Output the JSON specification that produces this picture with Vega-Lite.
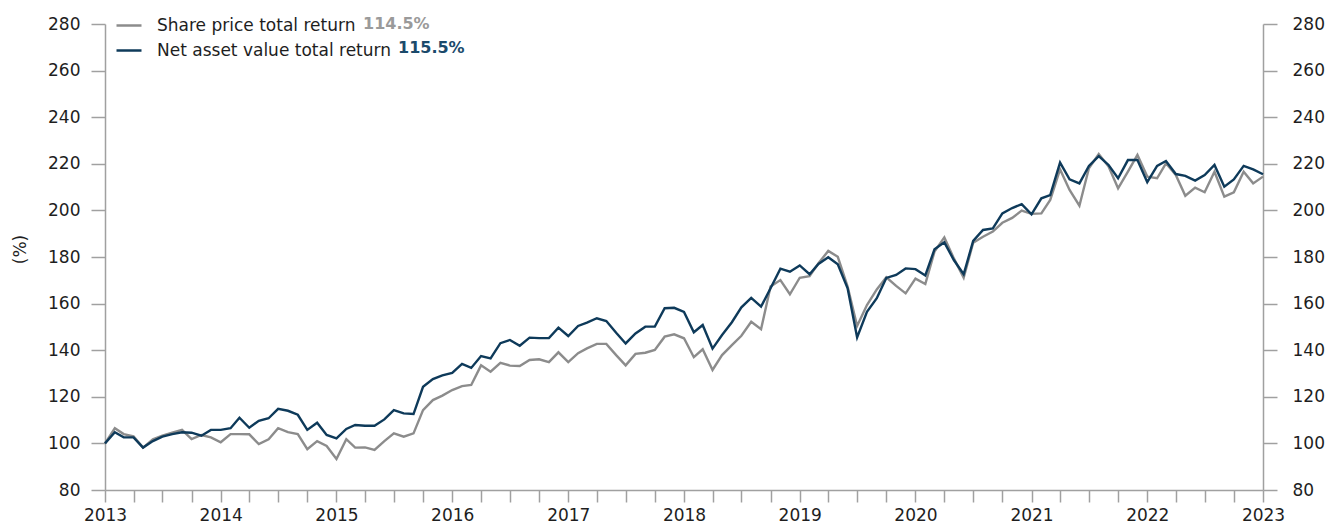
{
  "$schema": "https://vega.github.io/schema/vega-lite/v6.json",
  "autosize": "none",
  "width": 1158,
  "height": 466,
  "padding": {"left": 105, "top": 24, "right": 68, "bottom": 34},
  "background": "white",
  "config": {"font": "DejaVu Sans", "view": {"stroke": null}},
  "datasets": {
    "returns": [
      {"date": "2013-01-01", "sp": 100, "nav": 100},
      {"date": "2013-02-01", "sp": 106.5, "nav": 104.8},
      {"date": "2013-03-01", "sp": 104.0, "nav": 102.6},
      {"date": "2013-04-01", "sp": 103.0, "nav": 102.6},
      {"date": "2013-05-01", "sp": 98.2, "nav": 98.2},
      {"date": "2013-06-01", "sp": 101.8, "nav": 101.0},
      {"date": "2013-07-01", "sp": 103.3, "nav": 102.9},
      {"date": "2013-08-01", "sp": 104.6, "nav": 104.0},
      {"date": "2013-09-01", "sp": 105.8, "nav": 104.8},
      {"date": "2013-10-01", "sp": 101.8, "nav": 104.6},
      {"date": "2013-11-01", "sp": 103.6, "nav": 103.3},
      {"date": "2013-12-01", "sp": 102.6, "nav": 105.8},
      {"date": "2014-01-01", "sp": 100.5, "nav": 105.8},
      {"date": "2014-02-01", "sp": 104.0, "nav": 106.5},
      {"date": "2014-03-01", "sp": 104.0, "nav": 111.0},
      {"date": "2014-04-01", "sp": 103.9, "nav": 106.7},
      {"date": "2014-05-01", "sp": 99.7, "nav": 109.7},
      {"date": "2014-06-01", "sp": 101.8, "nav": 110.8},
      {"date": "2014-07-01", "sp": 106.5, "nav": 114.8},
      {"date": "2014-08-01", "sp": 104.8, "nav": 114.0},
      {"date": "2014-09-01", "sp": 104.0, "nav": 112.3},
      {"date": "2014-10-01", "sp": 97.5, "nav": 105.8},
      {"date": "2014-11-01", "sp": 101.0, "nav": 108.9},
      {"date": "2014-12-01", "sp": 98.9, "nav": 103.6},
      {"date": "2015-01-01", "sp": 93.3, "nav": 102.2},
      {"date": "2015-02-01", "sp": 101.8, "nav": 106.2},
      {"date": "2015-03-01", "sp": 98.2, "nav": 107.9},
      {"date": "2015-04-01", "sp": 98.3, "nav": 107.6},
      {"date": "2015-05-01", "sp": 97.2, "nav": 107.6},
      {"date": "2015-06-01", "sp": 101.0, "nav": 110.3},
      {"date": "2015-07-01", "sp": 104.3, "nav": 114.3},
      {"date": "2015-08-01", "sp": 102.9, "nav": 112.9},
      {"date": "2015-09-01", "sp": 104.3, "nav": 112.6},
      {"date": "2015-10-01", "sp": 114.3, "nav": 124.3},
      {"date": "2015-11-01", "sp": 118.6, "nav": 127.6},
      {"date": "2015-12-01", "sp": 120.5, "nav": 129.2},
      {"date": "2016-01-01", "sp": 122.9, "nav": 130.3},
      {"date": "2016-02-01", "sp": 124.6, "nav": 134.1},
      {"date": "2016-03-01", "sp": 125.1, "nav": 132.4},
      {"date": "2016-04-01", "sp": 133.5, "nav": 137.5},
      {"date": "2016-05-01", "sp": 130.8, "nav": 136.5},
      {"date": "2016-06-01", "sp": 134.6, "nav": 143.0},
      {"date": "2016-07-01", "sp": 133.4, "nav": 144.4},
      {"date": "2016-08-01", "sp": 133.2, "nav": 141.9},
      {"date": "2016-09-01", "sp": 135.8, "nav": 145.4},
      {"date": "2016-10-01", "sp": 136.1, "nav": 145.2},
      {"date": "2016-11-01", "sp": 134.9, "nav": 145.2},
      {"date": "2016-12-01", "sp": 139.1, "nav": 149.7},
      {"date": "2017-01-01", "sp": 134.9, "nav": 146.1},
      {"date": "2017-02-01", "sp": 138.7, "nav": 150.4},
      {"date": "2017-03-01", "sp": 140.8, "nav": 151.8},
      {"date": "2017-04-01", "sp": 142.7, "nav": 153.7},
      {"date": "2017-05-01", "sp": 142.7, "nav": 152.5},
      {"date": "2017-06-01", "sp": 137.9, "nav": 147.5},
      {"date": "2017-07-01", "sp": 133.5, "nav": 142.9},
      {"date": "2017-08-01", "sp": 138.4, "nav": 147.2},
      {"date": "2017-09-01", "sp": 138.9, "nav": 150.1},
      {"date": "2017-10-01", "sp": 140.1, "nav": 150.1},
      {"date": "2017-11-01", "sp": 145.8, "nav": 158.0},
      {"date": "2017-12-01", "sp": 146.8, "nav": 158.2},
      {"date": "2018-01-01", "sp": 145.1, "nav": 156.4},
      {"date": "2018-02-01", "sp": 137.0, "nav": 147.7},
      {"date": "2018-03-01", "sp": 140.4, "nav": 150.8},
      {"date": "2018-04-01", "sp": 131.5, "nav": 140.7},
      {"date": "2018-05-01", "sp": 137.9, "nav": 146.5},
      {"date": "2018-06-01", "sp": 142.2, "nav": 152.0},
      {"date": "2018-07-01", "sp": 146.2, "nav": 158.4},
      {"date": "2018-08-01", "sp": 152.2, "nav": 162.5},
      {"date": "2018-09-01", "sp": 149.0, "nav": 158.7},
      {"date": "2018-10-01", "sp": 167.3, "nav": 166.6},
      {"date": "2018-11-01", "sp": 170.1, "nav": 175.0},
      {"date": "2018-12-01", "sp": 164.0, "nav": 173.7},
      {"date": "2019-01-01", "sp": 171.1, "nav": 176.4},
      {"date": "2019-02-01", "sp": 171.8, "nav": 172.6},
      {"date": "2019-03-01", "sp": 177.3, "nav": 177.0},
      {"date": "2019-04-01", "sp": 182.6, "nav": 179.9},
      {"date": "2019-05-01", "sp": 180.1, "nav": 176.9},
      {"date": "2019-06-01", "sp": 167.3, "nav": 166.6},
      {"date": "2019-07-01", "sp": 150.4, "nav": 145.5},
      {"date": "2019-08-01", "sp": 159.4, "nav": 156.5},
      {"date": "2019-09-01", "sp": 166.1, "nav": 162.3},
      {"date": "2019-10-01", "sp": 171.3, "nav": 171.0},
      {"date": "2019-11-01", "sp": 167.6, "nav": 172.3},
      {"date": "2019-12-01", "sp": 164.4, "nav": 175.1},
      {"date": "2020-01-01", "sp": 170.7, "nav": 174.8},
      {"date": "2020-02-01", "sp": 168.4, "nav": 172.1},
      {"date": "2020-03-01", "sp": 182.3, "nav": 183.3},
      {"date": "2020-04-01", "sp": 188.4, "nav": 186.3},
      {"date": "2020-05-01", "sp": 179.4, "nav": 178.7},
      {"date": "2020-06-01", "sp": 171.1, "nav": 172.6},
      {"date": "2020-07-01", "sp": 186.1, "nav": 186.9},
      {"date": "2020-08-01", "sp": 188.7, "nav": 191.6},
      {"date": "2020-09-01", "sp": 190.9, "nav": 192.3},
      {"date": "2020-10-01", "sp": 194.7, "nav": 198.7},
      {"date": "2020-11-01", "sp": 196.8, "nav": 201.0},
      {"date": "2020-12-01", "sp": 199.9, "nav": 202.7},
      {"date": "2021-01-01", "sp": 198.5, "nav": 198.3},
      {"date": "2021-02-01", "sp": 198.7, "nav": 205.2},
      {"date": "2021-03-01", "sp": 204.5, "nav": 206.6},
      {"date": "2021-04-01", "sp": 217.6, "nav": 220.5},
      {"date": "2021-05-01", "sp": 208.8, "nav": 213.3},
      {"date": "2021-06-01", "sp": 202.0, "nav": 211.6},
      {"date": "2021-07-01", "sp": 218.1, "nav": 219.1},
      {"date": "2021-08-01", "sp": 224.2, "nav": 223.3},
      {"date": "2021-09-01", "sp": 218.8, "nav": 219.5},
      {"date": "2021-10-01", "sp": 209.5, "nav": 213.8},
      {"date": "2021-11-01", "sp": 216.6, "nav": 221.6},
      {"date": "2021-12-01", "sp": 223.8, "nav": 221.6},
      {"date": "2022-01-01", "sp": 214.5, "nav": 212.1},
      {"date": "2022-02-01", "sp": 213.8, "nav": 219.1},
      {"date": "2022-03-01", "sp": 220.2, "nav": 221.2},
      {"date": "2022-04-01", "sp": 215.2, "nav": 215.6},
      {"date": "2022-05-01", "sp": 206.3, "nav": 214.8},
      {"date": "2022-06-01", "sp": 209.8, "nav": 212.8},
      {"date": "2022-07-01", "sp": 207.8, "nav": 215.2},
      {"date": "2022-08-01", "sp": 216.6, "nav": 219.5},
      {"date": "2022-09-01", "sp": 205.9, "nav": 210.2},
      {"date": "2022-10-01", "sp": 207.8, "nav": 213.3},
      {"date": "2022-11-01", "sp": 216.6, "nav": 219.1},
      {"date": "2022-12-01", "sp": 211.6, "nav": 217.6},
      {"date": "2023-01-01", "sp": 214.5, "nav": 215.5}
    ],
    "pct": [
      {"ret": "114.5%"},
      {"ret": "115.5%"}
    ]
  },
  "resolve": {"scale": {"y": "independent"}, "axis": {"y": "independent"}},
  "layer": [
    {
      "data": {"name": "returns"},
      "transform": [
        {"fold": ["sp", "nav"], "as": ["series", "value"]},
        {"filter": {"field": "series", "equal": "sp"}}
      ],
      "mark": {"type": "line", "strokeWidth": 2.4},
      "encoding": {
        "x": {
          "field": "date", "type": "temporal",
          "scale": {"type": "utc", "domain": ["2013-01-01", "2023-01-01"], "nice": false},
          "axis": {
            "title": null, "grid": false,
            "tickCount": {"interval": "month", "step": 3},
            "labelExpr": "utcmonth(datum.value) === 0 ? utcFormat(datum.value, '%Y') : ''",
            "labelFlush": false, "labelOverlap": false,
            "tickSize": 12, "labelPadding": 5,
            "domainColor": "#a0a0a0", "tickColor": "#a0a0a0",
            "domainWidth": 1.5, "tickWidth": 1.5,
            "labelFontSize": 17, "labelColor": "#1e1e1e"
          }
        },
        "y": {
          "field": "value", "type": "quantitative",
          "scale": {"domain": [80, 280], "nice": false, "zero": false},
          "axis": {
            "orient": "left", "title": "(%)", "grid": false,
            "values": [80, 100, 120, 140, 160, 180, 200, 220, 240, 260, 280],
            "tickSize": 14, "labelPadding": 11,
            "domainColor": "#a0a0a0", "tickColor": "#a0a0a0",
            "domainWidth": 1.5, "tickWidth": 1.5,
            "labelFontSize": 17, "labelColor": "#1e1e1e",
            "titleFontSize": 17, "titleFontWeight": "normal", "titleColor": "#1e1e1e",
            "titleX": -85, "titleY": 225, "titleBaseline": "middle", "titleAlign": "center"
          }
        },
        "color": {
          "field": "series", "type": "nominal",
          "scale": {"domain": ["sp", "nav"], "range": ["#8c8c8c", "#0e3a5a"]},
          "legend": {
            "title": null, "orient": "none", "legendX": 10, "legendY": -12.5,
            "direction": "vertical", "padding": 0,
            "symbolType": "stroke", "symbolSize": 625, "symbolStrokeWidth": 2.5,
            "labelFontSize": 17, "labelColor": "#1e1e1e", "labelOffset": 14,
            "rowPadding": 3, "labelLimit": 0,
            "labelExpr": "datum.value === 'sp' ? 'Share price total return' : 'Net asset value total return'"
          }
        }
      }
    },
    {
      "data": {"name": "returns"},
      "transform": [
        {"fold": ["sp", "nav"], "as": ["series", "value"]},
        {"filter": {"field": "series", "equal": "nav"}}
      ],
      "mark": {"type": "line", "strokeWidth": 2.4},
      "encoding": {
        "x": {"field": "date", "type": "temporal"},
        "y": {
          "field": "value", "type": "quantitative",
          "scale": {"domain": [80, 280], "nice": false, "zero": false},
          "axis": {
            "orient": "right", "title": null, "grid": false,
            "values": [80, 100, 120, 140, 160, 180, 200, 220, 240, 260, 280],
            "tickSize": 14, "labelPadding": 15,
            "domainColor": "#a0a0a0", "tickColor": "#a0a0a0",
            "domainWidth": 1.5, "tickWidth": 1.5,
            "labelFontSize": 17, "labelColor": "#1e1e1e"
          }
        },
        "color": {"field": "series", "type": "nominal"}
      }
    },
    {
      "data": {"name": "pct"},
      "mark": {"type": "point", "opacity": 0},
      "encoding": {
        "fill": {
          "field": "ret", "type": "nominal",
          "scale": {"domain": ["114.5%", "115.5%"], "range": ["#9a9a9a", "#1b4a6b"]},
          "legend": {
            "title": null, "orient": "none", "legendX": 0, "legendY": -12.5,
            "direction": "vertical", "padding": 0,
            "symbolType": "stroke", "symbolSize": 625, "symbolOpacity": 0, "symbolStrokeWidth": 0,
            "labelFontSize": 16, "labelFontWeight": "bold", "rowPadding": 3, "labelLimit": 0,
            "encoding": {
              "labels": {
                "x": {"value": {"expr": "datum.value === '114.5%' ? 258 : 293"}},
                "fill": {"value": {"expr": "datum.value === '114.5%' ? '#9a9a9a' : '#1b4a6b'"}}
              }
            }
          }
        }
      }
    }
  ]
}
